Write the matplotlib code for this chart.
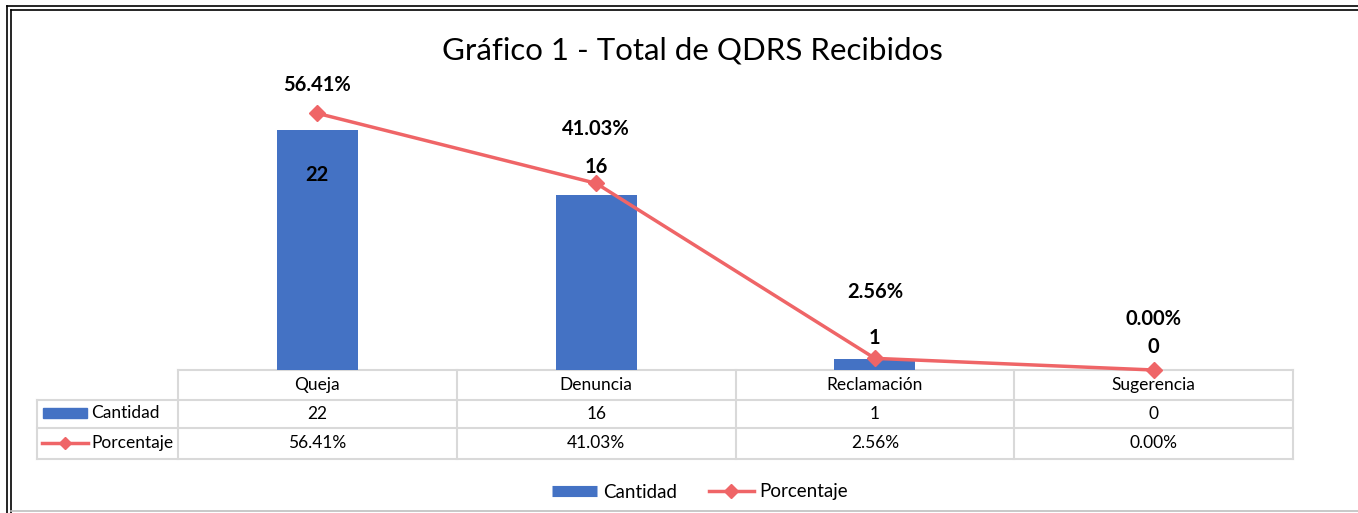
import matplotlib
matplotlib.use("Agg")
import matplotlib.pyplot as plt
from matplotlib.lines import Line2D
from matplotlib.patches import Rectangle
from matplotlib.transforms import blended_transform_factory

plt.rcParams["font.family"] = ["Lato", "DejaVu Sans"]

categorias = ["Queja", "Denuncia", "Reclamación", "Sugerencia"]
cantidad = [22, 16, 1, 0]
porcentaje = [0.5641, 0.4103, 0.0256, 0.0]
titulo = "Gráfico 1 - Total de QDRS Recibidos"

# label offsets in pixels (manual placement like the original)
off_cant = [-45, 28, 21, 23]
off_pct = [28, 54, 66, 51]

BLUE = "#4472C4"
RED = "#EF6567"
GRID = "#D9D9D9"
W, H = 1358, 513

fig = plt.figure(figsize=(W / 100, H / 100), dpi=100)


def fx(x):
    return x / W


def fy(y):
    return 1 - y / H


ax = fig.add_axes([fx(178), fy(370), fx(1293) - fx(178), fy(97) - fy(370)])
x = range(len(categorias))
ax.bar(x, cantidad, width=0.29, color=BLUE, zorder=2)
ax.set_xlim(-0.5, len(categorias) - 0.5)
ax.set_ylim(0, 25)
ax.axis("off")

ax2 = ax.twinx()
ax2.plot(x, porcentaje, color=RED, lw=2.5, marker="D", ms=8, zorder=3, clip_on=False)
ax2.set_ylim(0, 0.6)
ax2.axis("off")

for i, v in enumerate(cantidad):
    ax.annotate(f"{v}", (i, v), xytext=(0, off_cant[i]), textcoords="offset pixels",
                ha="center", va="center", fontsize=14.5, fontweight="bold")
for i, p in enumerate(porcentaje):
    ax2.annotate(f"{p * 100:.2f}%", (i, p), xytext=(0, off_pct[i]), textcoords="offset pixels",
                 ha="center", va="center", fontsize=14.5, fontweight="bold")

fig.text(fx(692), fy(50), titulo, ha="center", va="center", fontsize=22.5)

# data table under the chart
tr = blended_transform_factory(ax.transData, fig.transFigure)
n = len(categorias)
bounds = [i - 0.5 for i in range(n + 1)]
row_top, row1, row2, row_bot = 370, 400, 428, 459
left_edge = ax.transData.inverted().transform((37, 0))[0]
left_tab = -0.5
grid_kw = dict(transform=tr, color=GRID, lw=1.5, zorder=-1)

for yy in [row1, row2, row_bot]:
    fig.add_artist(Line2D([left_edge, bounds[-1]], [fy(yy), fy(yy)], **grid_kw))
fig.add_artist(Line2D([left_tab, bounds[-1]], [fy(row_top), fy(row_top)], **grid_kw))
fig.add_artist(Line2D([left_edge, left_edge], [fy(row1), fy(row_bot)], **grid_kw))
for b in bounds:
    fig.add_artist(Line2D([b, b], [fy(row_top), fy(row_bot)], **grid_kw))

tfs = 12.5
for i, c in enumerate(categorias):
    fig.text(i, fy((row_top + row1) / 2), c, transform=tr, ha="center", va="center", fontsize=tfs)
    fig.text(i, fy((row1 + row2) / 2), f"{cantidad[i]}", transform=tr, ha="center", va="center", fontsize=tfs)
    fig.text(i, fy((row2 + row_bot) / 2), f"{porcentaje[i] * 100:.2f}%", transform=tr,
             ha="center", va="center", fontsize=tfs)

# row keys
fig.add_artist(Rectangle((fx(43), fy(418)), fx(87) - fx(43), fy(408) - fy(418), color=BLUE))
fig.text(fx(91), fy(413), "Cantidad", ha="left", va="center", fontsize=tfs)
fig.add_artist(Line2D([fx(42), fx(65), fx(88)], [fy(443)] * 3, color=RED, lw=2.5,
                      marker="D", markevery=[1], ms=6))
fig.text(fx(91), fy(443), "Porcentaje", ha="left", va="center", fontsize=tfs)

# bottom legend
handles = [Line2D([], [], color=BLUE, lw=8, solid_capstyle="butt", label="Cantidad"),
           Line2D([], [], color=RED, lw=2.5, marker="D", ms=7, label="Porcentaje")]
fig.legend(handles=handles, loc="center", bbox_to_anchor=(fx(700), fy(492)), ncol=2,
           frameon=False, fontsize=13.5, handlelength=2.4, handletextpad=0.3,
           columnspacing=1.7)

# outer double frame
for xx, ytop in [(7, 6), (11, 10)]:
    fig.add_artist(Line2D([fx(xx), fx(xx)], [0, fy(ytop)], color="black", lw=1.2))
    fig.add_artist(Line2D([fx(xx), 1], [fy(ytop), fy(ytop)], color="black", lw=1.2))
fig.add_artist(Line2D([fx(11), 1], [fy(511), fy(511)], color="#BFBFBF", lw=1.2))

fig.savefig("out.png", dpi=100)
